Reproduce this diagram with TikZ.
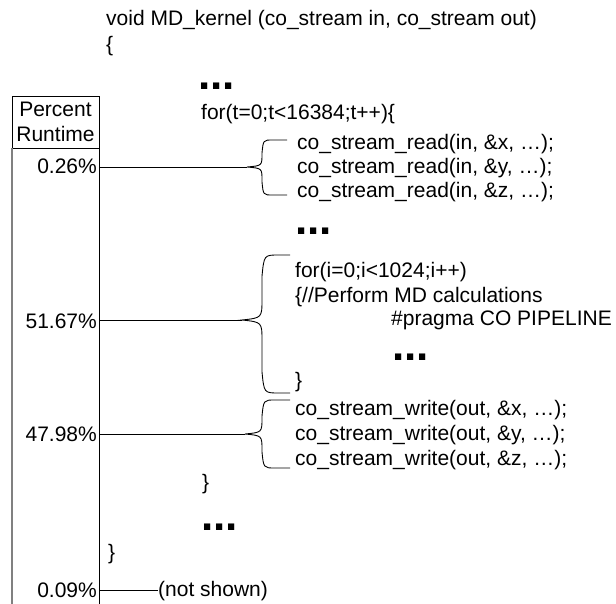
\documentclass[tikz,border=0pt]{standalone}
\usepackage{fontspec}
\setmainfont{Liberation Sans}
\begin{document}
\begin{tikzpicture}[x=1pt,y=-1pt,
  code/.style={anchor=base west, inner sep=0pt, font=\fontsize{21}{25}\selectfont},
  pct/.style={anchor=base east, inner sep=0pt, font=\fontsize{21}{25}\selectfont},
  head/.style={anchor=base, inner sep=0pt, font=\fontsize{21}{25}\selectfont},
  elide/.style={anchor=base west, inner sep=0pt, font=\fontsize{44}{44}\selectfont\bfseries},
  wire/.style={line width=0.9pt, black}]
\useasboundingbox (0,0) rectangle (616,604);

% curly bracket: tip y, vertical x, right x, top y, bottom y, bend size
\newcommand\curlybr[6]{%
  \draw[wire] (#3,#4) -- ({#2+#6*0.8},#4) .. controls ({#2+#6*0.1},#4) .. (#2,{#4+#6})
    -- (#2,{#1-#6}) .. controls (#2,{#1-#6*0.1}) .. (tip#1)
    .. controls (#2,{#1+#6*0.1}) .. (#2,{#1+#6})
    -- (#2,{#5-#6}) .. controls ({#2+#6*0.1},#5) .. ({#2+#6*0.8},#5) -- (#3,#5);}

% percent-runtime column
\draw[wire] (12,96) rectangle (99,148);
\node[head] (percent) at (55.5,117) {Percent};
\node[head] (runtime) at (55.5,142) {Runtime};
\draw[gray, line width=1.5pt] (12,148) -- (12,604);
\draw[wire] (99,148) -- (99,604);

\node[pct] (p1) at (97,174) {0.26\%};
\node[pct] (p2) at (97,328) {51.67\%};
\node[pct] (p3) at (97,441) {47.98\%};
\node[pct] (p4) at (97,597) {0.09\%};

\coordinate (s1) at (99,167);
\coordinate (s2) at (99,320);
\coordinate (s3) at (99,434);
\coordinate (s4) at (99,590);

% source code
\node[code] (sig) at (106,26) {void MD\_kernel (co\_stream in, co\_stream out)};
\node[code] (ob0) at (106,52) {\{};
\node[elide] (d1) at (198,90) {...};
\node[code] (fort) at (201,120) {for(t=0;t<16384;t++)\{};
\node[code] (r1) at (297,150) {co\_stream\_read(in, \&x, \dots);};
\node[code] (r2) at (297,174) {co\_stream\_read(in, \&y, \dots);};
\node[code] (r3) at (297,198) {co\_stream\_read(in, \&z, \dots);};
\node[elide] (d2) at (295,235) {...};
\node[code] (fori) at (295,277) {for(i=0;i<1024;i++)};
\node[code] (ob1) at (295,302) {\{//Perform MD calculations};
\node[code] (prag) at (391,325) {\#pragma CO PIPELINE};
\node[elide] (d3) at (392,360) {...};
\node[code] (cb1) at (295,387) {\}};
\node[code] (w1) at (295,415) {co\_stream\_write(out, \&x, \dots);};
\node[code] (w2) at (295,440) {co\_stream\_write(out, \&y, \dots);};
\node[code] (w3) at (295,465) {co\_stream\_write(out, \&z, \dots);};
\node[code] (cb2) at (202,489) {\}};
\node[elide] (d4) at (201,530) {...};
\node[code] (cb3) at (108,559) {\}};
\node[code] (ns) at (158,596) {(not shown)};

% brackets
\coordinate (tip167) at (247,167);
\coordinate (tip320) at (242,320);
\coordinate (tip434) at (245,434);
\curlybr{167}{262}{287}{140}{195}{13}
\curlybr{320}{262}{290}{255}{393}{21}
\curlybr{434}{262}{290}{400}{468}{16}

% connectors
\draw[wire] (s1) -- (tip167);
\draw[wire] (s2) -- (tip320);
\draw[wire] (s3) -- (tip434);
\draw[wire] (s4) -- (ns.west |- s4);
\end{tikzpicture}
\end{document}
